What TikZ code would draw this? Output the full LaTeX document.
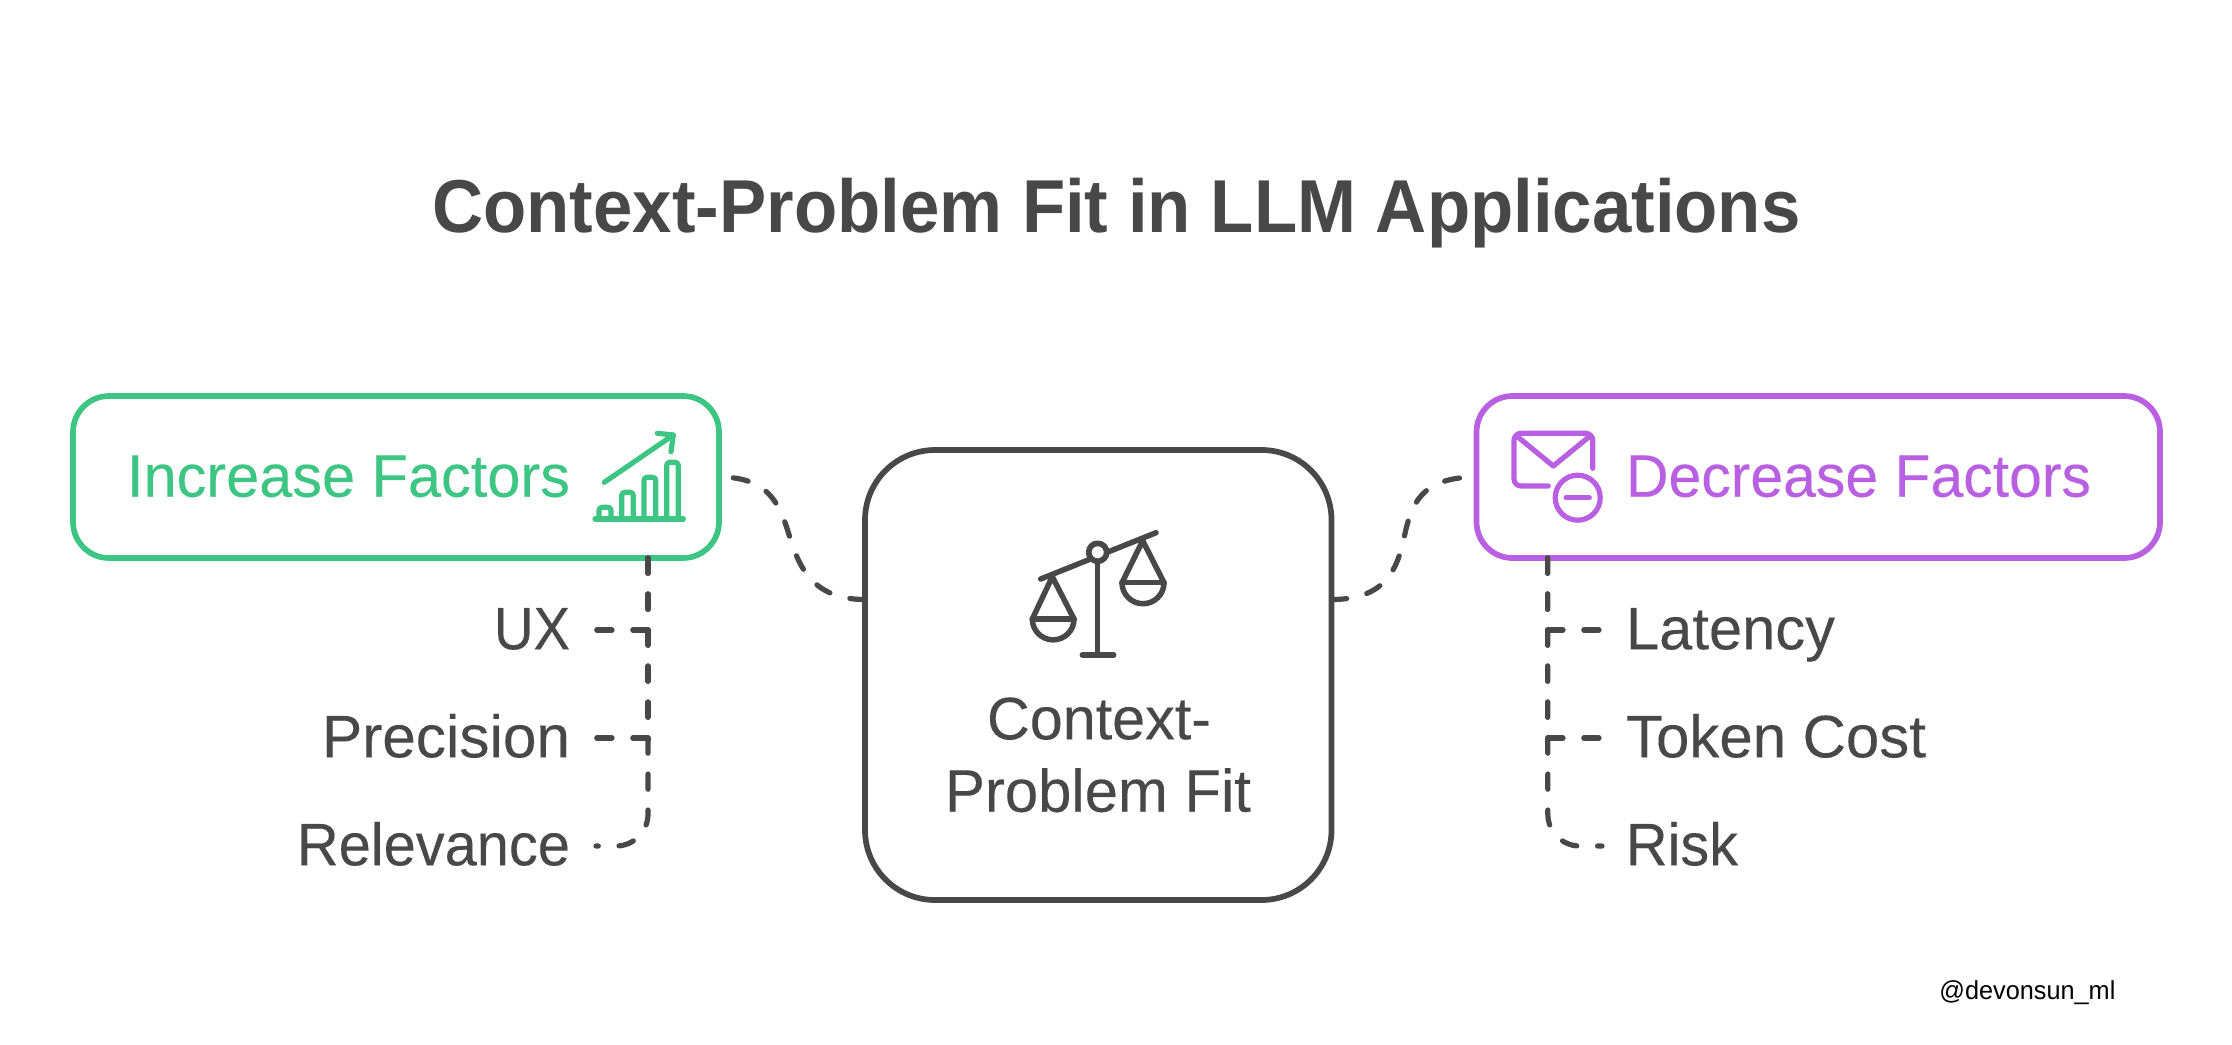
\documentclass[tikz,border=0pt]{standalone}
\usepackage{fontspec}
\setmainfont{Liberation Sans}
\newfontfamily\bodyfont[FakeBold=0.18]{Liberation Sans}
\newfontfamily\wmfont{Liberation Sans}
\usetikzlibrary{calc}
\definecolor{ink}{HTML}{484848}
\definecolor{upgreen}{HTML}{3DC583}
\definecolor{downpurple}{HTML}{B960E2}
% 1 reference pixel = 0.5pt; x,y typed in reference pixels with y downward
\newlength{\pxu}\setlength{\pxu}{0.5pt}
\newcommand{\fitw}[2]{\resizebox{#1\pxu}{\height}{#2}}
\tikzset{
  x=0.5pt,y=-0.5pt,
  conn/.style={draw=ink,line width=2.6pt,line cap=round,dash pattern=on 7.6pt off 10.4pt},
  sidebox/.style={draw,rectangle,line width=2.85pt,rounded corners=18pt,inner sep=0pt,outer sep=0pt,minimum width=323pt,minimum height=81pt},
  midbox/.style={draw=ink,rectangle,line width=2.85pt,rounded corners=35pt,inner sep=0pt,outer sep=0pt,minimum width=233.25pt,minimum height=225pt},
  headtext/.style={inner sep=0pt,outer sep=0pt,font=\bodyfont\fontsize{30pt}{36pt}\selectfont},
  lefttext/.style={text=ink,anchor=east,inner ysep=0pt,inner xsep=13pt,outer sep=0pt,text height=25pt,text depth=5.7pt,font=\bodyfont\fontsize{30pt}{36pt}\selectfont},
  righttext/.style={text=ink,anchor=west,inner ysep=0pt,inner xsep=12pt,outer sep=0pt,text height=25pt,text depth=5.7pt,font=\bodyfont\fontsize{30pt}{36pt}\selectfont},
  glyph/.style={line width=2.75pt,line cap=round,line join=round},
}
\begin{document}
\begin{tikzpicture}
\useasboundingbox (0,0) rectangle (2232,1044);
\fill[white] (0,0) rectangle (2232,1044);
% title
\node[anchor=base west,inner sep=0pt,text=ink,font=\bfseries\fontsize{37.5pt}{44pt}\selectfont] (title) at (432,232) {\fitw{1368}{Context-Problem Fit in LLM Applications}};
% boxes
\node[sidebox,draw=upgreen] (inc) at (396,477) {};
\node[sidebox,draw=downpurple,minimum width=341.75pt] (dec) at (1818.25,477) {};
\node[midbox] (ctr) at (1098.25,675) {};
% box texts
\node[headtext,anchor=base west,text=upgreen] (inctext) at (127,496.7) {\fitw{443}{Increase Factors}};
\node[headtext,anchor=base west,text=downpurple] (dectext) at (1626,496.7) {\fitw{465}{Decrease Factors}};
\node[headtext,anchor=base,text=ink] (ctra) at (1099,739.3) {\fitw{224}{Context-}};
\node[headtext,anchor=base,text=ink] (ctrb) at (1098,811.7) {\fitw{306}{Problem Fit}};
% list labels
\node[lefttext] (ux) at (596,630) {\fitw{76}{UX}};
\node[lefttext] (prec) at (596,738) {\fitw{248}{Precision}};
\node[lefttext] (relv) at (596,846) {\fitw{273}{Relevance}};
\node[righttext] (lat) at (1602,630) {\fitw{209}{Latency}};
\node[righttext] (tok) at (1602,738) {\fitw{300}{Token Cost}};
\node[righttext] (risk) at (1602,846) {\fitw{112}{Risk}};
% anchors of the trunks and of the S-curves
\coordinate (tl) at (648,558);
\coordinate (tr) at (1547.8,558);
\coordinate (lvl) at (0,599.5);
\coordinate (cl) at (ctr.west |- lvl);
\coordinate (cr) at (ctr.east |- lvl);
% connectors
\draw[conn] (tl) |- (ux.east);
\draw[conn] (tl) |- (prec.east);
\draw[conn,rounded corners=16pt] (tl) |- (relv.east);
\draw[conn] (tr) |- (lat.west);
\draw[conn] (tr) |- (tok.west);
\draw[conn,rounded corners=16pt] (tr) |- (risk.west);
\draw[conn] (cl) .. controls (815,599.5) and (800,570) .. (790,538) .. controls (780,505) and (770,477) .. (inc.east);
\draw[conn] (cr) .. controls (1385,599.5) and (1397,570) .. (1404,538) .. controls (1411,505) and (1420,477) .. (dec.west);
% scales icon
\begin{scope}[glyph,draw=ink]
  \draw (1040.7,579) -- (1156,532.7);
  \draw (1097.7,563) -- (1097.7,655);
  \draw (1082.3,655) -- (1113.7,655);
  \draw (1032.3,619) -- (1052.3,576.7) -- (1074,619);
  \draw (1032.3,619) -- (1074,619);
  \draw (1032.3,619) arc[start angle=180,end angle=0,radius=20.85];
  \draw (1122,582.7) -- (1142.7,540.7) -- (1164,582.7);
  \draw (1122,582.7) -- (1164,582.7);
  \draw (1122,582.7) arc[start angle=180,end angle=0,radius=21];
  \draw[fill=white,line width=2.85pt] (1097.7,552.3) circle[radius=9];
\end{scope}
% growth icon
\begin{scope}[glyph,draw=upgreen,line width=2.6pt]
  \draw (595,519) -- (683.3,519);
  \draw[rounded corners=1.5pt] (599,519) -- (599,507.3) -- (611,507.3) -- (611,519);
  \draw[rounded corners=1.5pt] (621.7,519) -- (621.7,492.3) -- (633.3,492.3) -- (633.3,519);
  \draw[rounded corners=1.5pt] (644,519) -- (644,477.3) -- (655.7,477.3) -- (655.7,519);
  \draw[rounded corners=1.5pt] (666.7,519) -- (666.7,462.3) -- (678.3,462.3) -- (678.3,519);
  \draw (604.3,482.3) -- (673.3,435);
  \draw (657.3,433.3) -- (673.3,435) -- (671,451.7);
\end{scope}
% mail icon
\begin{scope}[glyph,draw=downpurple,line width=2.6pt]
  \draw[rounded corners=3.5pt] (1548.3,486) -- (1514,486) -- (1514,433.3) -- (1592.7,433.3) -- (1592.7,468.3);
  \draw (1516.7,436) -- (1553.3,466) -- (1590,436);
  \draw (1577.7,497.7) circle[radius=22.5];
  \draw (1566,497.7) -- (1589.3,497.7);
\end{scope}
% credit
\node[anchor=base west,inner sep=0pt,text=black,font=\wmfont\fontsize{13pt}{16pt}\selectfont] (credit) at (1939,999) {\fitw{176}{@devonsun\_ml}};
\end{tikzpicture}
\end{document}
